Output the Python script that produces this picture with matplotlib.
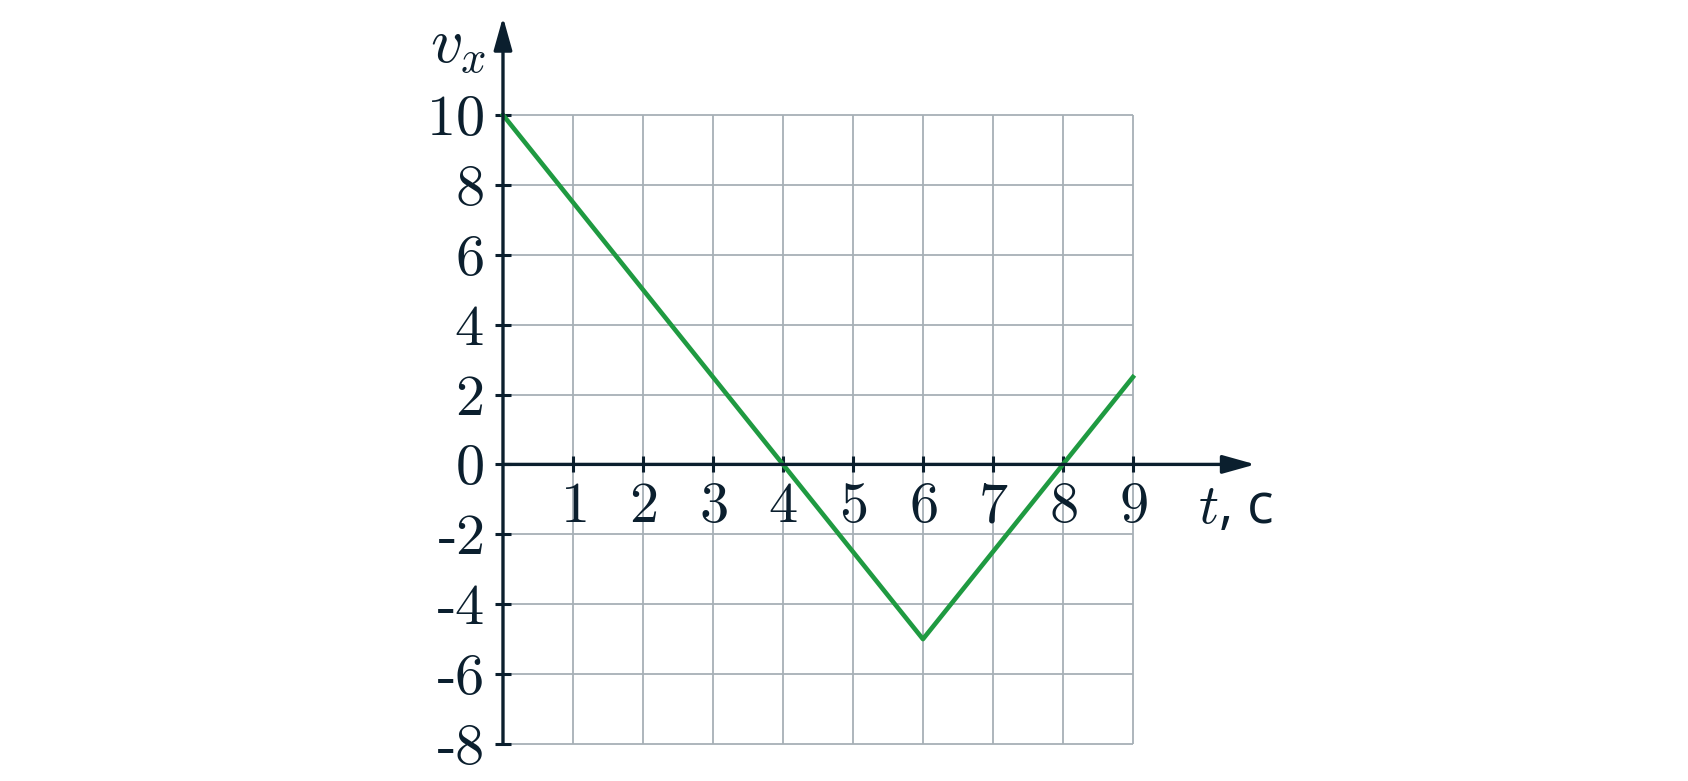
import numpy as np
import matplotlib.pyplot as plt

plt.rcParams['font.family'] = ['Liberation Serif', 'DejaVu Sans']
plt.rcParams['mathtext.fontset'] = 'cm'

# velocity vs time
t = [0, 6, 9]
vx = [10, -5, 2.5]

x_ticks = [1, 2, 3, 4, 5, 6, 7, 8, 9]
y_ticks = [-8, -6, -4, -2, 0, 2, 4, 6, 8, 10]
y_labels = ['-$8$', '-$6$', '-$4$', '-$2$', '$0$', '$2$', '$4$', '$6$', '$8$', '$10$']
x_labels = ['$%d$' % v for v in x_ticks]

ink = '#0b1f2e'
grid_c = '#a7b0b6'
green = '#1f9a41'

fig = plt.figure(figsize=(16.88, 7.81), dpi=100)
ax = fig.add_axes([0, 0, 1, 1])
ax.set_xlim(-7.186, 16.93)
ax.set_ylim(-9.06, 13.29)
for s in ax.spines.values():
    s.set_visible(False)
ax.spines['left'].set_position(('data', 0))
ax.spines['bottom'].set_position(('data', 0))

# grid only over the data region
ax.vlines(x_ticks, -8, 10, color=grid_c, lw=1.3, zorder=1)
ax.hlines(y_ticks, 0, 9, color=grid_c, lw=1.3, zorder=1)

ax.plot(t, vx, color=green, lw=3.3, solid_joinstyle='round', zorder=3)

# axes with arrows
arrow = dict(arrowstyle='-|>,head_length=1.0,head_width=0.28', color=ink, lw=2.4,
             shrinkA=0, shrinkB=0, mutation_scale=20)
ax.annotate('', xy=(10.75, 0), xytext=(0, 0), arrowprops=arrow, zorder=4)
ax.annotate('', xy=(0, 12.8), xytext=(0, -8), arrowprops=arrow, zorder=4)

ax.set_xticks(x_ticks)
ax.set_xticklabels(x_labels)
ax.set_yticks(y_ticks)
ax.set_yticklabels(y_labels)
ax.tick_params(direction='inout', length=12, width=2.2, color=ink,
               labelsize=42, labelcolor=ink)
ax.tick_params(axis='y', pad=8)
ax.tick_params(axis='x', pad=7)

ax.text(-0.23, 11.9, r'$v_x$', fontsize=46, color=ink, ha='right', va='center')
ax.text(9.93, -1.25, r'$t$, с', fontsize=40, color=ink, ha='left', va='center',
        family=['Open Sans', 'DejaVu Sans'])

fig.savefig('out.png', dpi=100)
